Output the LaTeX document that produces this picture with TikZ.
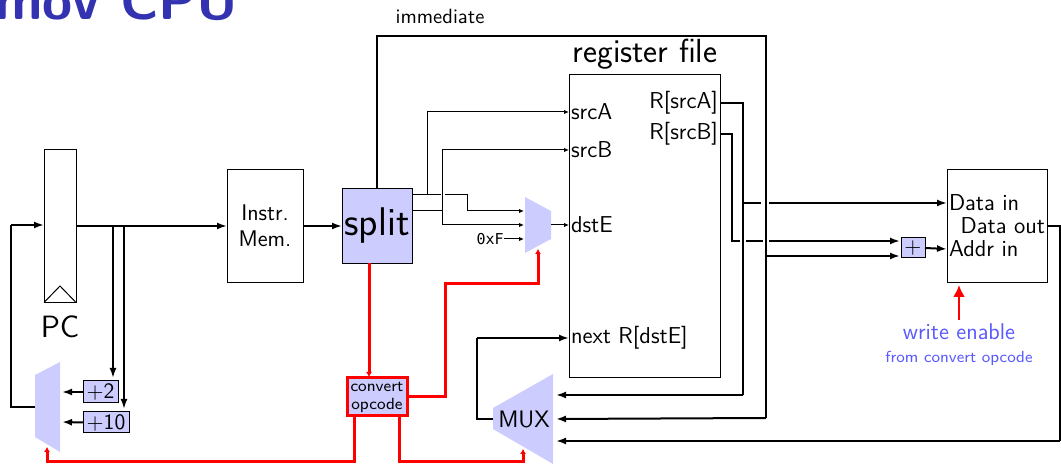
\documentclass[tikz,border=0pt]{standalone}
\usepackage{fontspec}
\usepackage{amsmath,amssymb}
\usepackage{tikz}
\usetikzlibrary{arrows.meta}
\newfontfamily\wiremono{DejaVu Sans Mono}
\definecolor{boxfill}{rgb}{0.8,0.8,1}
\definecolor{titleblue}{rgb}{0.2,0.2,0.7}
\definecolor{noteblue}{rgb}{0.35,0.35,1}
\newcommand{\fsz}[2]{\fontsize{#1}{#2}\selectfont}
\begin{document}
\begin{tikzpicture}[x=0.5pt,y=-0.5pt,
    unit/.style={draw,inner sep=0pt,outer sep=0pt,align=center,line width=0.5pt,font=\sffamily\fsz{11.3}{13}},
    alu/.style={unit,fill=boxfill,font=\sffamily\fsz{11}{13}},
    port/.style={inner sep=1pt,outer sep=0pt,font=\sffamily\fsz{11.5}{12}},
    bus/.style={line width=1pt,-{Latex[length=5pt,width=3.5pt]}},
    plainbus/.style={line width=1pt},
    sig/.style={line width=0.5pt,-{Latex[length=2.5pt,width=2.2pt]}},
    plainsig/.style={line width=0.5pt},
    ctl/.style={red,line width=1.5pt,-{Latex[length=2.5pt,width=3pt]}},
    muxfill/.style={fill=boxfill}]
\useasboundingbox (0,-1) rectangle (1061,463);

\node[anchor=base east,inner sep=0pt,text=titleblue,font=\sffamily\bfseries\fsz{27.3}{30}] (title) at (239,19) {mov CPU};
\node[font=\sffamily\fsz{10.3}{12}] (immlabel) at (440,15) {immediate};

\node[unit,minimum width=16pt,minimum height=76.5pt] (pc) at (60,225) {};
\draw[line width=0.5pt] (pc.south west) -- (60,285) -- (pc.south east);
\node[font=\sffamily\fsz{15.4}{18}] (pclabel) at (60,326) {PC};
\node[unit,minimum width=38pt,minimum height=56.5pt] (imem) at (265,225) {Instr.\\Mem.};
\node[unit,fill=boxfill,minimum width=35pt,minimum height=37.5pt,font=\sffamily\fsz{20}{22}] (split) at (377,225) {split};
\node[unit,minimum width=75.5pt,minimum height=151.5pt] (regfile) at (644.5,225) {};
\node[font=\sffamily\fsz{16.7}{18}] (reglabel) at (645,53) {register file};
\node[unit,minimum width=50pt,minimum height=56.5pt] (dmem) at (997,225) {};

\node[port,anchor=west] (srcA) at (569,111) {srcA};
\node[port,anchor=west] (srcB) at (569,149) {srcB};
\node[port,anchor=west] (dstE) at (569,224) {dstE};
\node[port,anchor=west] (nextR) at (569,337) {next R[dstE]};
\node[port,anchor=east] (rA) at (720,102) {R[srcA]};
\node[port,anchor=east] (rB) at (720,133) {R[srcB]};
\node[port,anchor=west] (datain) at (947,202) {Data in};
\node[port,anchor=east] (dataout) at (1047,225) {Data out};
\node[port,anchor=west] (addrin) at (947,248) {Addr in};

\fill[muxfill] (35,374) -- (60,361) -- (60,451) -- (35,436) -- cycle;
\fill[muxfill] (525,196) -- (551,210) -- (551,238) -- (525,252) -- cycle;
\fill[muxfill] (493,407) -- (553,373) -- (553,463) -- (493,428) -- cycle;
\node[font=\sffamily\fsz{11.9}{14}] (mux) at (524,418) {MUX};

\node[alu,minimum width=17.5pt,minimum height=11pt] (plustwo) at (100.5,391) {$+$2};
\node[alu,minimum width=23pt,minimum height=10.5pt] (plusten) at (106,421.5) {$+$10};
\node[alu,minimum width=12pt,minimum height=10pt] (adder) at (913,247) {$+$};
\node[draw=red,fill=boxfill,line width=1.5pt,inner sep=0pt,outer sep=0pt,minimum width=30pt,minimum height=19pt,align=center,font=\sffamily\fsz{8.1}{9}] (convert) at (377,396) {convert\\opcode};

\node[text=noteblue,font=\sffamily\fsz{11.4}{12}] (wenable) at (959,331) {write enable};
\node[text=noteblue,font=\sffamily\fsz{8}{9}] (wfrom) at (959,357) {from convert opcode};
\node[font=\wiremono\fsz{7.5}{8},inner sep=0pt,anchor=east] (constF) at (504,238) {0xF};

\coordinate (pcmuxout) at (35,406);
\coordinate (pcmuxtwo) at (62,391);
\coordinate (pcmuxten) at (62,421);
\coordinate (pcmuxsel) at (47,446);
\coordinate (pcin) at (44,224);
\coordinate (tapA) at (113,225);
\coordinate (tapB) at (124,225);
\coordinate (splitA) at (412,194);
\coordinate (splitB) at (412,210);
\coordinate (tapsrcA) at (427.5,194);
\coordinate (gapL) at (441,194);
\coordinate (gapR) at (445,194);
\coordinate (tapsrcB) at (442,210);
\coordinate (muxA) at (524,210);
\coordinate (muxB) at (524,224);
\coordinate (muxC) at (524,238);
\coordinate (muxout) at (551,224);
\coordinate (muxsel) at (538,248);
\coordinate (opcodeout) at (407,396);
\coordinate (opcodeA) at (354,415);
\coordinate (opcodeB) at (399,415);
\coordinate (bigsel) at (523,448);
\coordinate (bigout) at (493,418);
\coordinate (bigA) at (556,394);
\coordinate (bigB) at (556,418);
\coordinate (bigC) at (556,440);
\coordinate (immstart) at (377,187);
\coordinate (immbranch) at (766,255);
\coordinate (addA) at (900,240);
\coordinate (addB) at (900,255);
\coordinate (rAjoin) at (743,202);
\coordinate (dataL) at (761,202);
\coordinate (dataR) at (769,202);
\coordinate (rBgapL) at (740,240);
\coordinate (rBgapR) at (746,240);
\coordinate (rBgapS) at (763,240);
\coordinate (rBgapT) at (769,240);
\coordinate (outright) at (1060,225);
\coordinate (wtip) at (959,284);
\coordinate (wtail) at (959,319);

\draw[plainbus] (pcmuxout) -| (11,224);
\draw[bus] (11,224) -- (pcin);
\draw[bus] (pc.east) -- (imem.west);
\draw[bus] (tapA) -- (113,377);
\draw[bus] (tapB) -- (124,408);
\draw[bus] (plustwo.west) -- (pcmuxtwo);
\draw[bus] (plusten.west) -- (pcmuxten);
\draw[bus] (imem.east) -- (split.west);

\draw[plainbus] (immstart) |- (766,35) -- (766,417);
\draw[bus] (766,417) -- (bigB);
\draw[bus] (immbranch) -- (addB);

\draw[sig] (tapsrcA) |- (srcA.west);
\draw[sig] (tapsrcB |- srcB.west) -- (srcB.west);
\draw[plainsig] (tapsrcB |- srcB.west) -- (tapsrcB |- muxB);
\draw[sig] (tapsrcB |- muxB) -- (muxB);
\draw[plainsig] (splitA) -- (gapL);
\draw[plainsig] (gapR) -- (467,194) -- (467,210);
\draw[sig] (467,210) -- (muxA);
\draw[plainsig] (splitB) -- (tapsrcB);
\draw[sig] (constF.east) -- (muxC);
\draw[sig] (muxout) -- (dstE.west);

\draw[plainbus] (rA.east) -| (743,394);
\draw[bus] (743,394) -- (bigA);
\draw[plainbus] (rAjoin) -- (dataL);
\draw[bus] (dataR) -- (datain.west);
\draw[plainbus] (rB.east) -| (732,240) -- (rBgapL);
\draw[plainbus] (rBgapR) -- (rBgapS);
\draw[bus] (rBgapT) -- (addA);
\draw[bus] (adder.east) -- (addrin.west);

\draw[plainbus] (bigout) -| (477,337);
\draw[bus] (477,337) -- (nextR.west);
\draw[plainbus] (dataout.east) -- (outright) -- (1060,440);
\draw[bus] (1060,440) -- (bigC);

\draw[ctl] (split.south -| 369,262) -- (369,376);
\draw[ctl] (opcodeout) -| (445,283) -| (muxsel);
\draw[ctl] (opcodeA) |- (47,461) -- (pcmuxsel);
\draw[ctl] (opcodeB) |- (523,461) -- (bigsel);
\draw[red,line width=1.3pt,-{Latex[length=6pt,width=6pt]}] (wtail) -- (wtip);
\end{tikzpicture}
\end{document}
